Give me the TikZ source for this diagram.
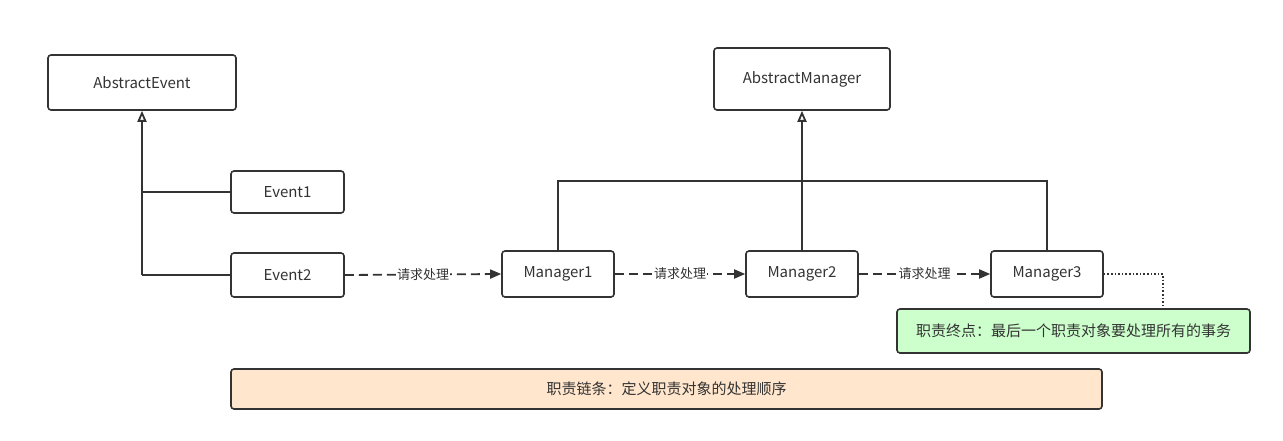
\documentclass[tikz,border=0pt]{standalone}
\usepackage{fontspec}
\setmainfont{Noto Sans CJK SC}
\usetikzlibrary{arrows.meta}
\definecolor{ln}{HTML}{333333}
\definecolor{notegreen}{HTML}{CCFFCC}
\definecolor{noteorange}{HTML}{FFE6CC}
\tikzset{
  cls/.style={draw=ln, line width=1.6pt, rounded corners=3pt, fill=white, inner sep=0pt, font=\fontsize{15}{17}\selectfont, text=ln},
  inh/.style={draw=ln, line width=1.8pt, -{Triangle[open, length=11pt, width=9pt]}},
  plain/.style={draw=ln, line width=1.8pt},
  req/.style={draw=ln, line width=1.8pt, dash pattern=on 9pt off 5pt, -{Triangle[length=11pt, width=9pt]}},
  lbl/.style={fill=white, inner sep=1pt, font=\fontsize{13}{14}\selectfont, text=ln},
  dotl/.style={draw=ln, line width=1.6pt, dash pattern=on 1.6pt off 2pt},
}
\begin{document}
\begin{tikzpicture}[x=1pt, y=-1pt]
\useasboundingbox (0,0) rectangle (1283,441);
\node[cls, minimum width=188pt, minimum height=55pt] (ae) at (142,82.5) {AbstractEvent};
\node[cls, minimum width=113pt, minimum height=42pt] (e1) at (287.5,192) {Event1};
\node[cls, minimum width=113pt, minimum height=44pt] (e2) at (287.5,275) {Event2};
\node[cls, minimum width=176pt, minimum height=62pt] (am) at (802,79) {AbstractManager};
\node[cls, minimum width=112pt, minimum height=46pt] (m1) at (558,274) {Manager1};
\node[cls, minimum width=112pt, minimum height=46pt] (m2) at (802,274) {Manager2};
\node[cls, minimum width=112pt, minimum height=46pt] (m3) at (1047,274) {Manager3};
\node[cls, fill=notegreen, minimum width=353pt, minimum height=44pt] (gn) at (1073.5,331) {职责终点：最后一个职责对象要处理所有的事务};
\node[cls, fill=noteorange, minimum width=871pt, minimum height=40pt] (on) at (666.5,389) {职责链条：定义职责对象的处理顺序};

\coordinate (j2) at (142,275);
\coordinate (j1) at (142,192);
\draw[inh] (j2) -- (ae.south);
\draw[plain] (j1) -- (e1.west);
\draw[plain] (j2) -- (e2.west);

\coordinate (t1) at (558,181);
\coordinate (t3) at (1047,181);
\draw[plain] (m1.north) -- (t1) -- (t3) -- (m3.north);
\draw[inh] (m2.north) -- (am.south);

\draw[req] (e2.east) -- node[lbl] {请求处理} (m1.west);
\draw[req] (m1.east) -- node[lbl] {请求处理} (m2.west);
\draw[req] (m2.east) -- node[lbl] {请求处理} (m3.west);

\coordinate (dc) at (1163,274);
\draw[dotl] (m3.east) -- (dc) -- (dc |- gn.north);
\end{tikzpicture}
\end{document}
